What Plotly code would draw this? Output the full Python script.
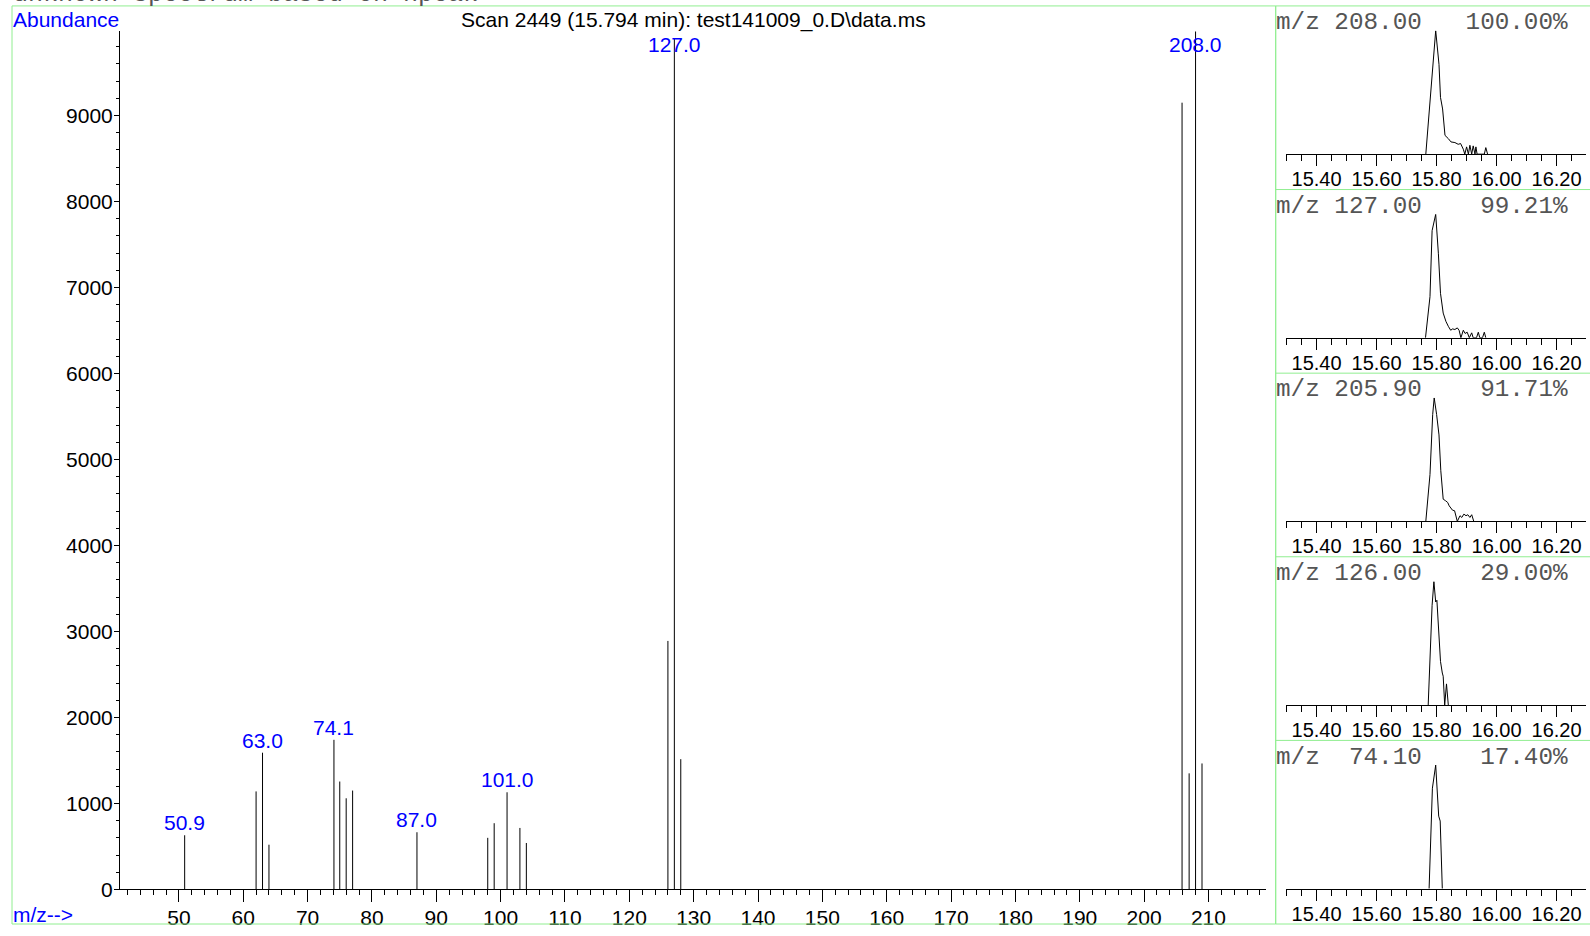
import plotly.graph_objects as go

# ---------------- data ----------------
# main mass spectrum (scan 2449)
mz = [50.9, 62.0, 63.0, 64.0, 74.1, 75.0, 76.0, 77.0, 87.0, 98.0, 99.0, 101.0,
      103.0, 104.0, 126.0, 127.0, 128.0, 205.9, 207.0, 208.0, 209.0]
abundance = [630, 1140, 1590, 520, 1740, 1255, 1060, 1150, 665, 600, 770, 1130,
             715, 540, 2890, 9900, 1515, 9150, 1350, 9980, 1465]
labeled_mz = [50.9, 63.0, 74.1, 87.0, 101.0, 127.0, 208.0]

# extracted ion chromatograms (percent of own maximum)
ion_mz = [208.00, 127.00, 205.90, 126.00, 74.10]
ion_pct = [100.00, 99.21, 91.71, 29.00, 17.40]

eic_t_208 = [15.764, 15.780, 15.797, 15.808, 15.813, 15.820, 15.828, 15.839, 15.848,
             15.861, 15.872, 15.880, 15.889, 15.894, 15.900, 15.906, 15.911, 15.917,
             15.922, 15.928, 15.931, 15.935, 15.959, 15.964, 15.970]
eic_i_208 = [0, 52, 100, 72.7, 46, 36.6, 15.2, 12.6, 9.9, 9.4, 8.0, 8.6, 4, 0, 5.9, 0,
             7.2, 0, 6.7, 0, 5.9, 0, 0, 5.3, 0]

eic_t_127 = [15.763, 15.778, 15.785, 15.791, 15.797, 15.806, 15.813, 15.822, 15.831,
             15.839, 15.847, 15.853, 15.861, 15.869, 15.875, 15.881, 15.889, 15.895,
             15.902, 15.909, 15.917, 15.922, 15.933, 15.939, 15.944, 15.953, 15.959,
             15.964]
eic_i_127 = [0, 33.3, 86.7, 94.7, 100, 68, 36, 20, 13.3, 9.3, 6.1, 7.2, 6.7, 8.0, 6.1,
             0, 6.1, 3.5, 4.5, 0, 4.0, 0, 0, 4.5, 0, 0, 4.5, 0]

eic_t_206 = [15.764, 15.778, 15.787, 15.792, 15.800, 15.808, 15.814, 15.822, 15.830,
             15.837, 15.842, 15.848, 15.853, 15.860, 15.869, 15.878, 15.884, 15.891,
             15.898, 15.904, 15.911, 15.917, 15.924]
eic_i_206 = [0, 38, 86.6, 100, 86.6, 70, 41, 18, 16.7, 15.3, 12.6, 10.8, 9.1, 8.6, 0,
             4.6, 3.2, 5.9, 4.6, 5.4, 3.2, 5.4, 0]

eic_t_126 = [15.772, 15.780, 15.785, 15.791, 15.797, 15.801, 15.806, 15.813, 15.819,
             15.822, 15.827, 15.833, 15.839]
eic_i_126 = [0, 51.3, 80.7, 100, 83.4, 84.8, 59.4, 35.3, 25.9, 23.3, 0, 17.1, 0]

eic_t_74 = [15.775, 15.785, 15.786, 15.797, 15.807, 15.812, 15.819]
eic_i_74 = [0, 78.7, 81.3, 100, 58.7, 54.7, 0]

eic_t = [eic_t_208, eic_t_127, eic_t_206, eic_t_126, eic_t_74]
eic_i = [eic_i_208, eic_i_127, eic_i_206, eic_i_126, eic_i_74]

title_text = "Scan 2449 (15.794 min): test141009_0.D\\data.ms"
top_text = "unknown spectrum based on npeak"

# ---------------- layout helpers ----------------
W, H = 1590, 936
def px(x):
    return x / W
def py(y):
    return 1 - y / H

SANS = "Liberation Sans, Arial, Helvetica, sans-serif"
MONO = "Liberation Mono, Courier New, monospace"
GREEN = "#90ee90"
BLUE = "#0000ff"
MONO_COLOR = "#555555"

fig = go.Figure()

# main spectrum as stick lines
xs, ys = [], []
for m, a in zip(mz, abundance):
    xs += [m, m, None]
    ys += [0, a, None]
fig.add_trace(go.Scatter(x=xs, y=ys, mode="lines", line=dict(color="black", width=1),
                         xaxis="x", yaxis="y", hoverinfo="skip"))

layout = dict(
    width=W, height=H, margin=dict(l=0, r=0, t=0, b=0),
    paper_bgcolor="white", plot_bgcolor="white", showlegend=False,
    xaxis=dict(domain=[px(120), px(1265.7)], range=[40.85, 218.9], anchor="y",
               showline=True, linecolor="black", linewidth=1, showgrid=False,
               zeroline=False, ticks="outside", ticklen=12, tickcolor="black",
               tick0=0, dtick=10, tickfont=dict(family=SANS, size=21, color="black"),
               minor=dict(dtick=2, tick0=0, ticks="outside", ticklen=5, tickcolor="black"),
               ticklabelstandoff=-3),
    yaxis=dict(domain=[py(900), py(31.7)], range=[0, 9980], anchor="x",
               showline=True, linecolor="black", linewidth=1, showgrid=False,
               zeroline=False, ticks="outside", ticklen=5, tickcolor="black",
               tick0=0, dtick=1000, tickformat="d",
               tickfont=dict(family=SANS, size=21, color="black"),
               minor=dict(dtick=200, tick0=0, ticks="outside", ticklen=3, tickcolor="black"),
               ticklabelstandoff=-3),
)

shapes = []
annotations = []

for k in range(5):
    border = 6 + 185.8 * k
    base = border + 150
    top = border + 25
    xa = "xaxis%d" % (k + 2)
    ya = "yaxis%d" % (k + 2)
    xr = "x%d" % (k + 2)
    yr = "y%d" % (k + 2)
    layout[xa] = dict(domain=[px(1285.7), px(1585.7)], range=[15.297, 16.297], anchor=yr,
                      showline=True, linecolor="black", linewidth=1, showgrid=False,
                      zeroline=False, ticks="outside", ticklen=11, tickcolor="black",
                      tick0=15.4, dtick=0.2, tickformat=".2f",
                      tickfont=dict(family=SANS, size=20, color="black"),
                      minor=dict(dtick=0.05, tick0=15.4, ticks="outside", ticklen=6,
                                 tickcolor="black"),
                      ticklabelstandoff=-4)
    layout[ya] = dict(domain=[py(base), py(top)], range=[0, 100], anchor=xr,
                      visible=False)
    fig.add_trace(go.Scatter(x=eic_t[k], y=eic_i[k], mode="lines",
                             line=dict(color="black", width=1),
                             xaxis=xr, yaxis=yr, hoverinfo="skip"))
    lab = "m/z\u00a0" + ("%6.2f" % ion_mz[k]).replace(" ", "\u00a0") + \
          ("%9.2f" % ion_pct[k]).replace(" ", "\u00a0") + "%"
    annotations.append(dict(text=lab, xref="paper", yref="paper", x=px(1274), y=py(border + 17),
                            xanchor="left", yanchor="middle", showarrow=False,
                            font=dict(family=MONO, size=24.3, color=MONO_COLOR)))
    if k > 0:
        shapes.append(dict(type="line", xref="paper", yref="paper", x0=px(1275.7), x1=1,
                           y0=py(border), y1=py(border), line=dict(color=GREEN, width=1)))

# frames
shapes.append(dict(type="rect", xref="paper", yref="paper", x0=px(12), x1=px(1275.7),
                   y0=py(935), y1=py(6), line=dict(color=GREEN, width=1)))
shapes.append(dict(type="rect", xref="paper", yref="paper", x0=px(1275.7), x1=px(1590.5),
                   y0=py(935), y1=py(6), line=dict(color=GREEN, width=1)))

# peak labels (kept below the top of the plot area)
cap = 9680
for m in labeled_mz:
    a = abundance[mz.index(m)]
    annotations.append(dict(text="%.1f" % m, x=m, y=min(a, cap), xref="x", yref="y",
                            xanchor="center", yanchor="bottom", yshift=-1, showarrow=False,
                            font=dict(family=SANS, size=21, color=BLUE)))

annotations += [
    dict(text="Abundance", xref="paper", yref="paper", x=px(11), y=py(20),
         xanchor="left", yanchor="middle", showarrow=False,
         font=dict(family=SANS, size=21, color=BLUE)),
    dict(text="m/z-->", xref="paper", yref="paper", x=px(11), y=py(925),
         xanchor="left", yanchor="middle", showarrow=False,
         font=dict(family=SANS, size=21, color=BLUE)),
    dict(text=title_text, xref="paper", yref="paper", x=px(459), y=py(20),
         xanchor="left", yanchor="middle", showarrow=False,
         font=dict(family=SANS, size=21, color="black")),
    dict(text=top_text, xref="paper", yref="paper", x=px(11), y=py(11),
         xanchor="left", yanchor="bottom", showarrow=False,
         font=dict(family=MONO, size=25, color=MONO_COLOR)),
]

layout["shapes"] = shapes
layout["annotations"] = annotations
fig.update_layout(**layout)

fig.write_html("out.html", config={"displayModeBar": False, "staticPlot": True},
               post_script="document.body.style.margin='0';document.body.style.padding='0';")
